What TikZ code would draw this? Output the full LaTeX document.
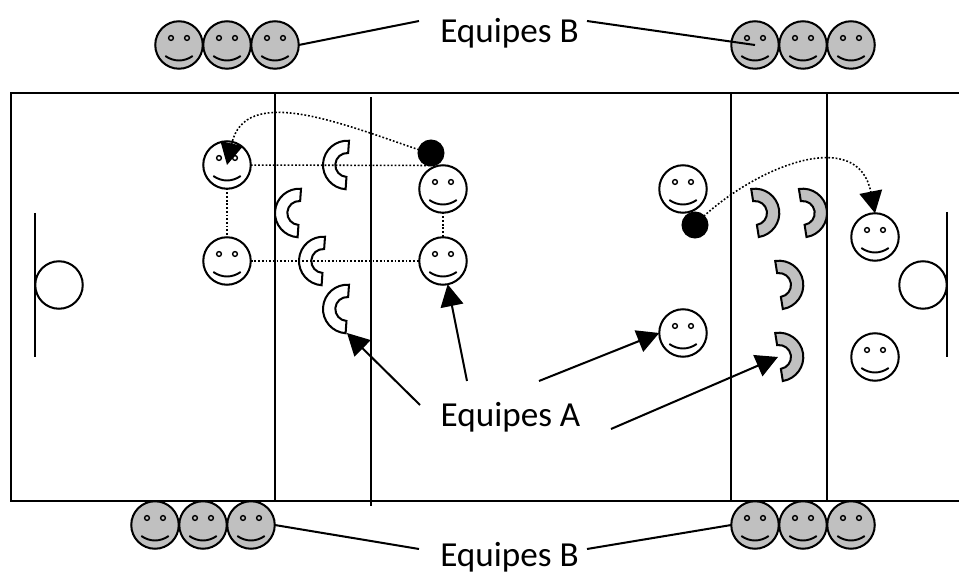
\documentclass[tikz,border=0pt]{standalone}
\usepackage{fontspec}
\setmainfont{Carlito}
\usetikzlibrary{calc,arrows.meta}
\def\guardarc[#1](#2)(#3:#4){\draw[#1] ($(#2)+(#3:24.3)$) arc (#3:#4:24.3) -- ($(#2)+(#4:12)$) arc (#4:#3:12) -- cycle;}
\definecolor{teamgrey}{HTML}{C0C0C0}
\tikzset{
	face/.style={draw, circle, inner sep=0pt, outer sep=0pt, minimum size=0.95cm, fill=#1, path picture={
		\draw[line width=0.8pt] ([shift={(-8,7)}]path picture bounding box.center) circle (2.4);
		\draw[line width=0.8pt] ([shift={(8,7)}]path picture bounding box.center) circle (2.4);
		\draw[line width=1.1pt] ([shift={(-13.7,-11)}]path picture bounding box.center) .. controls ([shift={(-5,-17)}]path picture bounding box.center) and ([shift={(5,-17)}]path picture bounding box.center) .. ([shift={(13.7,-11)}]path picture bounding box.center);
	}},
	ball/.style={draw, circle, fill=black, inner sep=0pt, outer sep=0pt, minimum size=0.5cm},
	goalball/.style={draw, circle, inner sep=0pt, outer sep=0pt, minimum size=0.95cm},
	teamlabel/.style={anchor=base, inner sep=0pt, font=\fontsize{20}{24}\selectfont},
	pass/.style={line width=0.9pt, dash pattern=on 1pt off 1.1pt},
	pointer/.style={-{Triangle[length=12.5pt,width=13pt]}}
}

\begin{document}
\begin{tikzpicture}[x=0.02cm, y=0.02cm, line width=1.15pt]
		%%%%% START %%%%%
		\useasboundingbox (0, 0) rectangle (959, 574);
		\draw (959, 481) -- (11, 481) -- (11, 73) -- (959, 73);
		\draw (275, 481) -- (275, 73);
		\draw (371, 477) -- (371, 68);
		\draw (731, 481) -- (731, 73);
		\draw (827, 481) -- (827, 73);
		
		\draw (35, 361) -- (35, 217);
		\draw (947, 362) -- (947, 217);
		\node[goalball] (goalL) at (59, 289) {};
		\node[goalball] (goalR) at (923, 289) {};
		
		\guardarc[](347.3, 409)(86:266);
		\guardarc[](299.3, 361)(86:266);
		\guardarc[](323.3, 313)(86:266);
		\guardarc[](347.3, 265)(86:266);
		\guardarc[fill=teamgrey](755, 361)(99:-81);
		\guardarc[fill=teamgrey](802.7, 361)(99:-81);
		\guardarc[fill=teamgrey](779, 289)(99:-81);
		\guardarc[fill=teamgrey](779, 217)(99:-81);
		
		\node[face=white] (white1) at (227, 409) {};
		\node[face=white] (white2) at (227, 313) {};
		\node[face=white] (white3) at (443, 385) {};
		\node[face=white] (white4) at (443, 313) {};
		\node[face=white] (white5) at (683, 385) {};
		\node[face=white] (white6) at (875, 337) {};
		\node[face=white] (white7) at (683, 241) {};
		\node[face=white] (white8) at (875, 217) {};
		
		\node[ball] (ballL) at (431, 421) {};
		\node[ball] (ballR) at (695, 349) {};
		
		\draw[pass] (white1) -- (white2);
		\draw[pass] (white1) -- (ballL.south);
		\draw[pass] (white2) -- (white4);
		\draw[pass] (white3) -- (white4);
		
		\node[face=teamgrey] (top1) at (179, 529) {};
		\node[face=teamgrey] (top2) at (227, 529) {};
		\node[face=teamgrey] (top3) at (275, 529) {};
		\node[face=teamgrey] (top4) at (755, 529) {};
		\node[face=teamgrey] (top5) at (803, 529) {};
		\node[face=teamgrey] (top6) at (851, 529) {};
		\node[face=teamgrey] (low1) at (155, 49) {};
		\node[face=teamgrey] (low2) at (203, 49) {};
		\node[face=teamgrey] (low3) at (251, 49) {};
		\node[face=teamgrey] (low4) at (755, 49) {};
		\node[face=teamgrey] (low5) at (803, 49) {};
		\node[face=teamgrey] (low6) at (851, 49) {};
		
		\node[teamlabel] (labelTop) at (509.5, 531) {Equipes B};
		\node[teamlabel] (labelMid) at (510.5, 147) {Equipes A};
		\node[teamlabel] (labelLow) at (509.5, 8) {Equipes B};
		
		\coordinate (topL) at (419, 553);
		\coordinate (topR) at (587, 553);
		\coordinate (lowL) at (419, 25);
		\coordinate (lowR) at (587, 25);
		\draw (top3.east) -- (topL);
		\draw (topR) -- (top4.center);
		\draw (low3.east) -- (lowL);
		\draw (lowR) -- (low4.west);
		
		\coordinate (midA) at (420, 169);
		\coordinate (midB) at (467, 193);
		\coordinate (midC) at (539, 193);
		\coordinate (midD) at (611, 145);
		\coordinate (guardTipL) at (347, 241);
		\coordinate (guardTipR) at (778, 217);
		\draw[pointer] (midA) -- (guardTipL);
		\draw[pointer] (midB) -- (white4);
		\draw[pointer] (midC) -- (white7.west);
		\draw[pointer] (midD) -- (guardTipR);
		
		\draw[pass, pointer] (ballL.165) .. controls (340, 451) and (245, 490) .. (white1.center);
		\draw[pass, pointer] (ballR.north east) .. controls (760, 409) and (858, 447) .. (white6.north);
		%%%%% END %%%%%
	\end{tikzpicture}
\end{document}
